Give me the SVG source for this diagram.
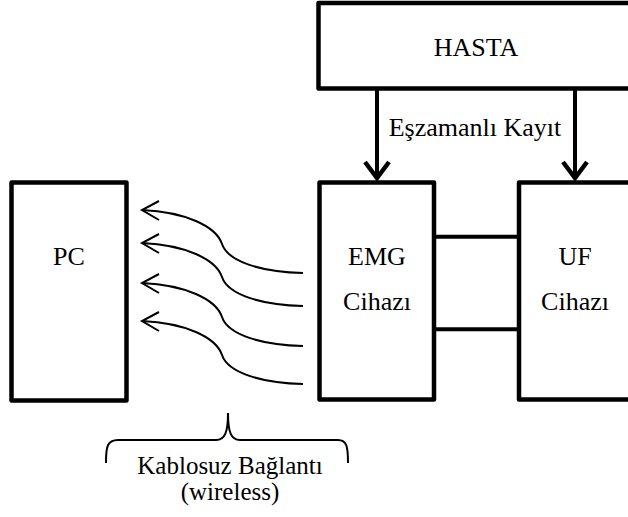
<svg xmlns="http://www.w3.org/2000/svg" xmlns:xlink="http://www.w3.org/1999/xlink" width="628" height="517" viewBox="0 0 628 517">
  <style>
    .box { fill: #ffffff; stroke: #000000; stroke-width: 4.5; stroke-linejoin: round; }
    .link { fill: none; stroke: #000000; stroke-width: 4; }
    .head { fill: none; stroke: #000000; stroke-width: 4.5; stroke-linejoin: miter; }
    .wave { fill: none; stroke: #000000; stroke-width: 2; }
    .brace { fill: none; stroke: #000000; stroke-width: 2; }
    text { font-family: "Liberation Serif", "Times New Roman", serif; font-size: 26px; fill: #000000; text-anchor: middle; }
    .note { font-size: 25px; }
  </style>
  <defs>
    <!-- one wireless signal: S-curve with an open arrowhead pointing left -->
    <g id="signal">
      <path class="wave" d="M303,273 C262,272 228,262 222,244 C216,226 185,212 142,210"/>
      <polyline class="wave" points="159,201 142,210 159,220"/>
    </g>
  </defs>
  <rect width="628" height="517" fill="#ffffff"/>

  <g id="connectors">
    <!-- HASTA to devices -->
    <line class="link" x1="377" y1="90" x2="377" y2="178"/>
    <polyline class="head" points="365,162 377,178 389,162"/>
    <line class="link" x1="575" y1="90" x2="575" y2="178"/>
    <polyline class="head" points="563,162 575,178 587,162"/>
    <!-- EMG to UF -->
    <line class="link" x1="434" y1="236.7" x2="519" y2="236.7"/>
    <line class="link" x1="434" y1="329.3" x2="519" y2="329.3"/>
    <!-- wireless signals to PC -->
    <use xlink:href="#signal"/>
    <use xlink:href="#signal" transform="translate(0,33)"/>
    <use xlink:href="#signal" transform="translate(0,73)"/>
    <use xlink:href="#signal" transform="translate(0,111)"/>
  </g>

  <g id="hasta">
    <rect class="box" x="318.5" y="3" width="330" height="85.5"/>
    <text x="476" y="56">HASTA</text>
  </g>
  <text x="475" y="136">Eşzamanlı Kayıt</text>

  <g id="emg">
    <rect class="box" x="319.5" y="182.5" width="114.5" height="217"/>
    <text x="377" y="265">EMG</text>
    <text x="377" y="310">Cihazı</text>
  </g>

  <g id="uf">
    <rect class="box" x="519" y="182.5" width="200" height="217"/>
    <text x="575" y="265">UF</text>
    <text x="575" y="310">Cihazı</text>
  </g>

  <g id="pc">
    <rect class="box" x="11.5" y="182.5" width="115" height="218"/>
    <text x="69" y="265">PC</text>
  </g>

  <g id="wireless">
    <path class="brace" d="M106,463 C106,447 107,440 118,440 L216,440 C225,440 228,432 228,413 C228,432 231,440 240,440 L338,440 C347,440 348,447 348,463"/>
    <text class="note" x="230" y="474">Kablosuz Bağlantı</text>
    <text class="note" x="230" y="500">(wireless)</text>
  </g>
</svg>
